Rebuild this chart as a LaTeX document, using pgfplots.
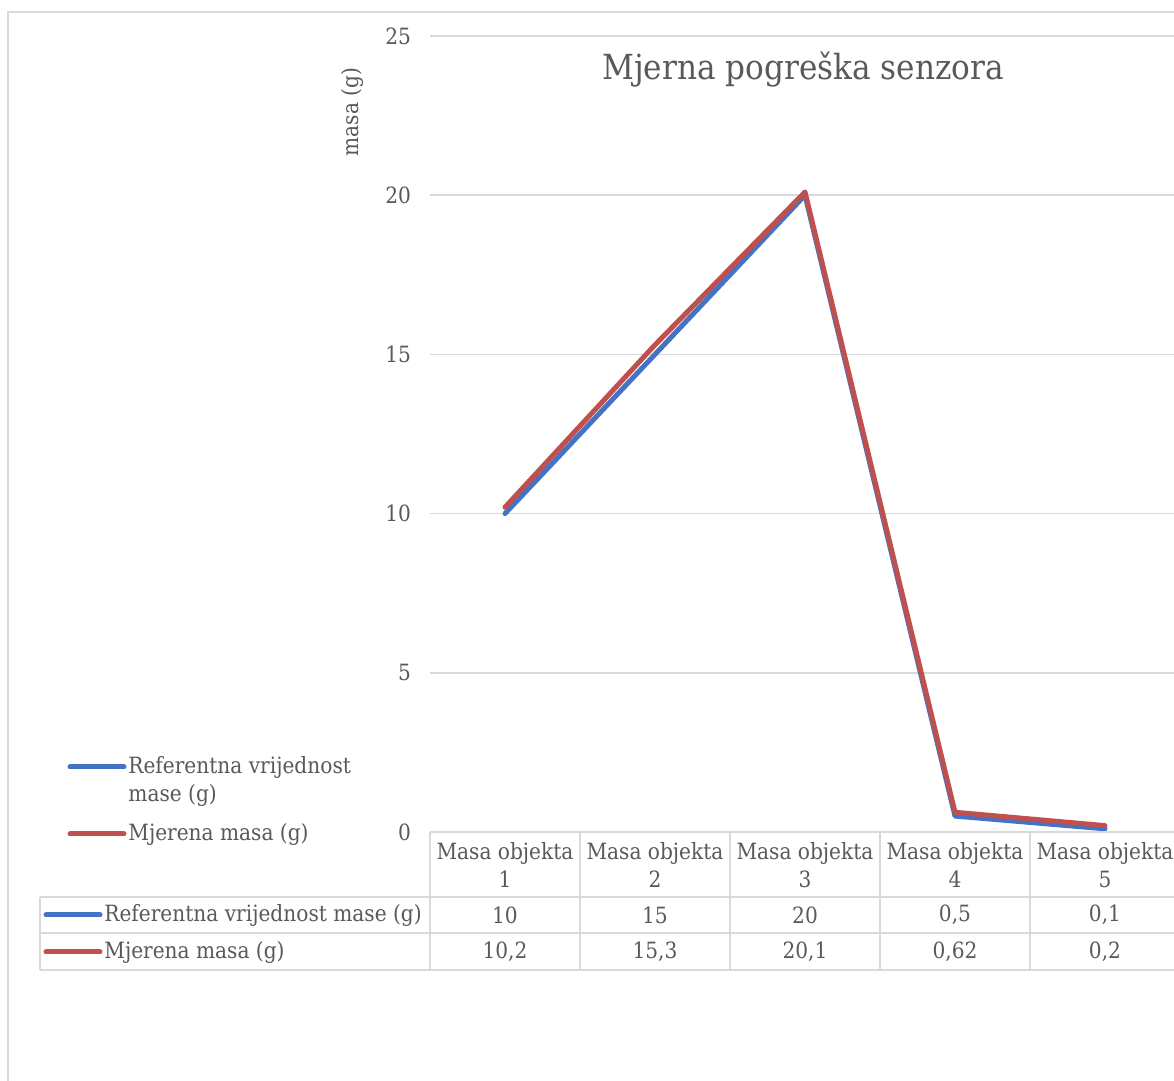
\documentclass[border=0pt]{standalone}
\usepackage{fontspec}
\setmainfont{DejaVu Serif Condensed}
\usepackage{pgfplots}
\pgfplotsset{compat=1.18}
\definecolor{txt}{HTML}{595959}
\definecolor{grd}{HTML}{D9D9D9}
\definecolor{sblue}{HTML}{4472C4}
\definecolor{sred}{HTML}{C0504D}
\newcommand{\sm}{\fontsize{11.2}{14}\selectfont}
\begin{document}
\begin{tikzpicture}[x=0.5pt,y=0.5pt]
\useasboundingbox (0,0) rectangle (1174,1081);
\clip (0,0) rectangle (1174,1081);
\draw[grd, line width=1pt] (8,-19) -- (8,1069) -- (1200,1069);
\begin{axis}[at={(215pt,124.5pt)}, anchor=south west, scale only axis,
  width=375pt, height=398pt, xmin=0.5, xmax=5.5, ymin=0, ymax=25,
  ytick={0,5,10,15,20,25}, xtick=\empty,
  axis line style={draw=none}, major tick style={draw=none},
  ymajorgrids, grid style={grd, line width=0.75pt},
  yticklabel style={font=\sm, text=txt, xshift=-6pt},
  /pgf/number format/assume math mode=true, clip=false]
\addplot[sblue, line width=2.5pt, line join=round, line cap=round] coordinates {(1,10)(2,15)(3,20)(4,0.5)(5,0.1)};
\addplot[sred, line width=2.5pt, line join=round, line cap=round] coordinates {(1,10.2)(2,15.3)(3,20.1)(4,0.62)(5,0.2)};
\end{axis}
% title and y label
\node[text=txt, font=\fontsize{17.3}{20}\selectfont] at (803,1011) {Mjerna pogreška senzora};
\node[text=txt, font=\sm, rotate=90] at (352,969) {masa (g)};
% legend
\draw[sblue, line width=2.5pt, line cap=round] (70,314) -- (124,314);
\node[text=txt, font=\sm, anchor=west, inner sep=1pt] at (126,314) {Referentna vrijednost};
\node[text=txt, font=\sm, anchor=west, inner sep=1pt] at (126,286) {mase (g)};
\draw[sred, line width=2.5pt, line cap=round] (70,247) -- (124,247);
\node[text=txt, font=\sm, anchor=west, inner sep=1pt] at (126,247) {Mjerena masa (g)};
% data table
\draw[grd, line width=1pt] (430,249) -- (1190,249);
\draw[grd, line width=1pt] (40,184) -- (1190,184);
\draw[grd, line width=1pt] (40,148) -- (1190,148);
\draw[grd, line width=1pt] (40,111) -- (1190,111);
\draw[grd, line width=1pt] (40,184) -- (40,111);
\foreach \xx in {430,580,730,880,1030} \draw[grd, line width=1pt] (\xx,249) -- (\xx,111);
\foreach \i/\a/\b in {1/10/{10,2},2/15/{15,3},3/20/{20,1},4/{0,5}/{0,62},5/{0,1}/{0,2}} {
  \pgfmathsetmacro{\cx}{355+150*\i}
  \node[text=txt, font=\sm, align=center] at (\cx,216) {Masa objekta\\\i};
  \node[text=txt, font=\sm] at (\cx,166) {\a};
  \node[text=txt, font=\sm] at (\cx,129) {\b};
}
\draw[sblue, line width=2.5pt, line cap=round] (46,166) -- (100,166);
\node[text=txt, font=\sm, anchor=west, inner sep=1pt] at (102,166) {Referentna vrijednost mase (g)};
\draw[sred, line width=2.5pt, line cap=round] (46,129) -- (100,129);
\node[text=txt, font=\sm, anchor=west, inner sep=1pt] at (102,129) {Mjerena masa (g)};
\end{tikzpicture}
\end{document}
